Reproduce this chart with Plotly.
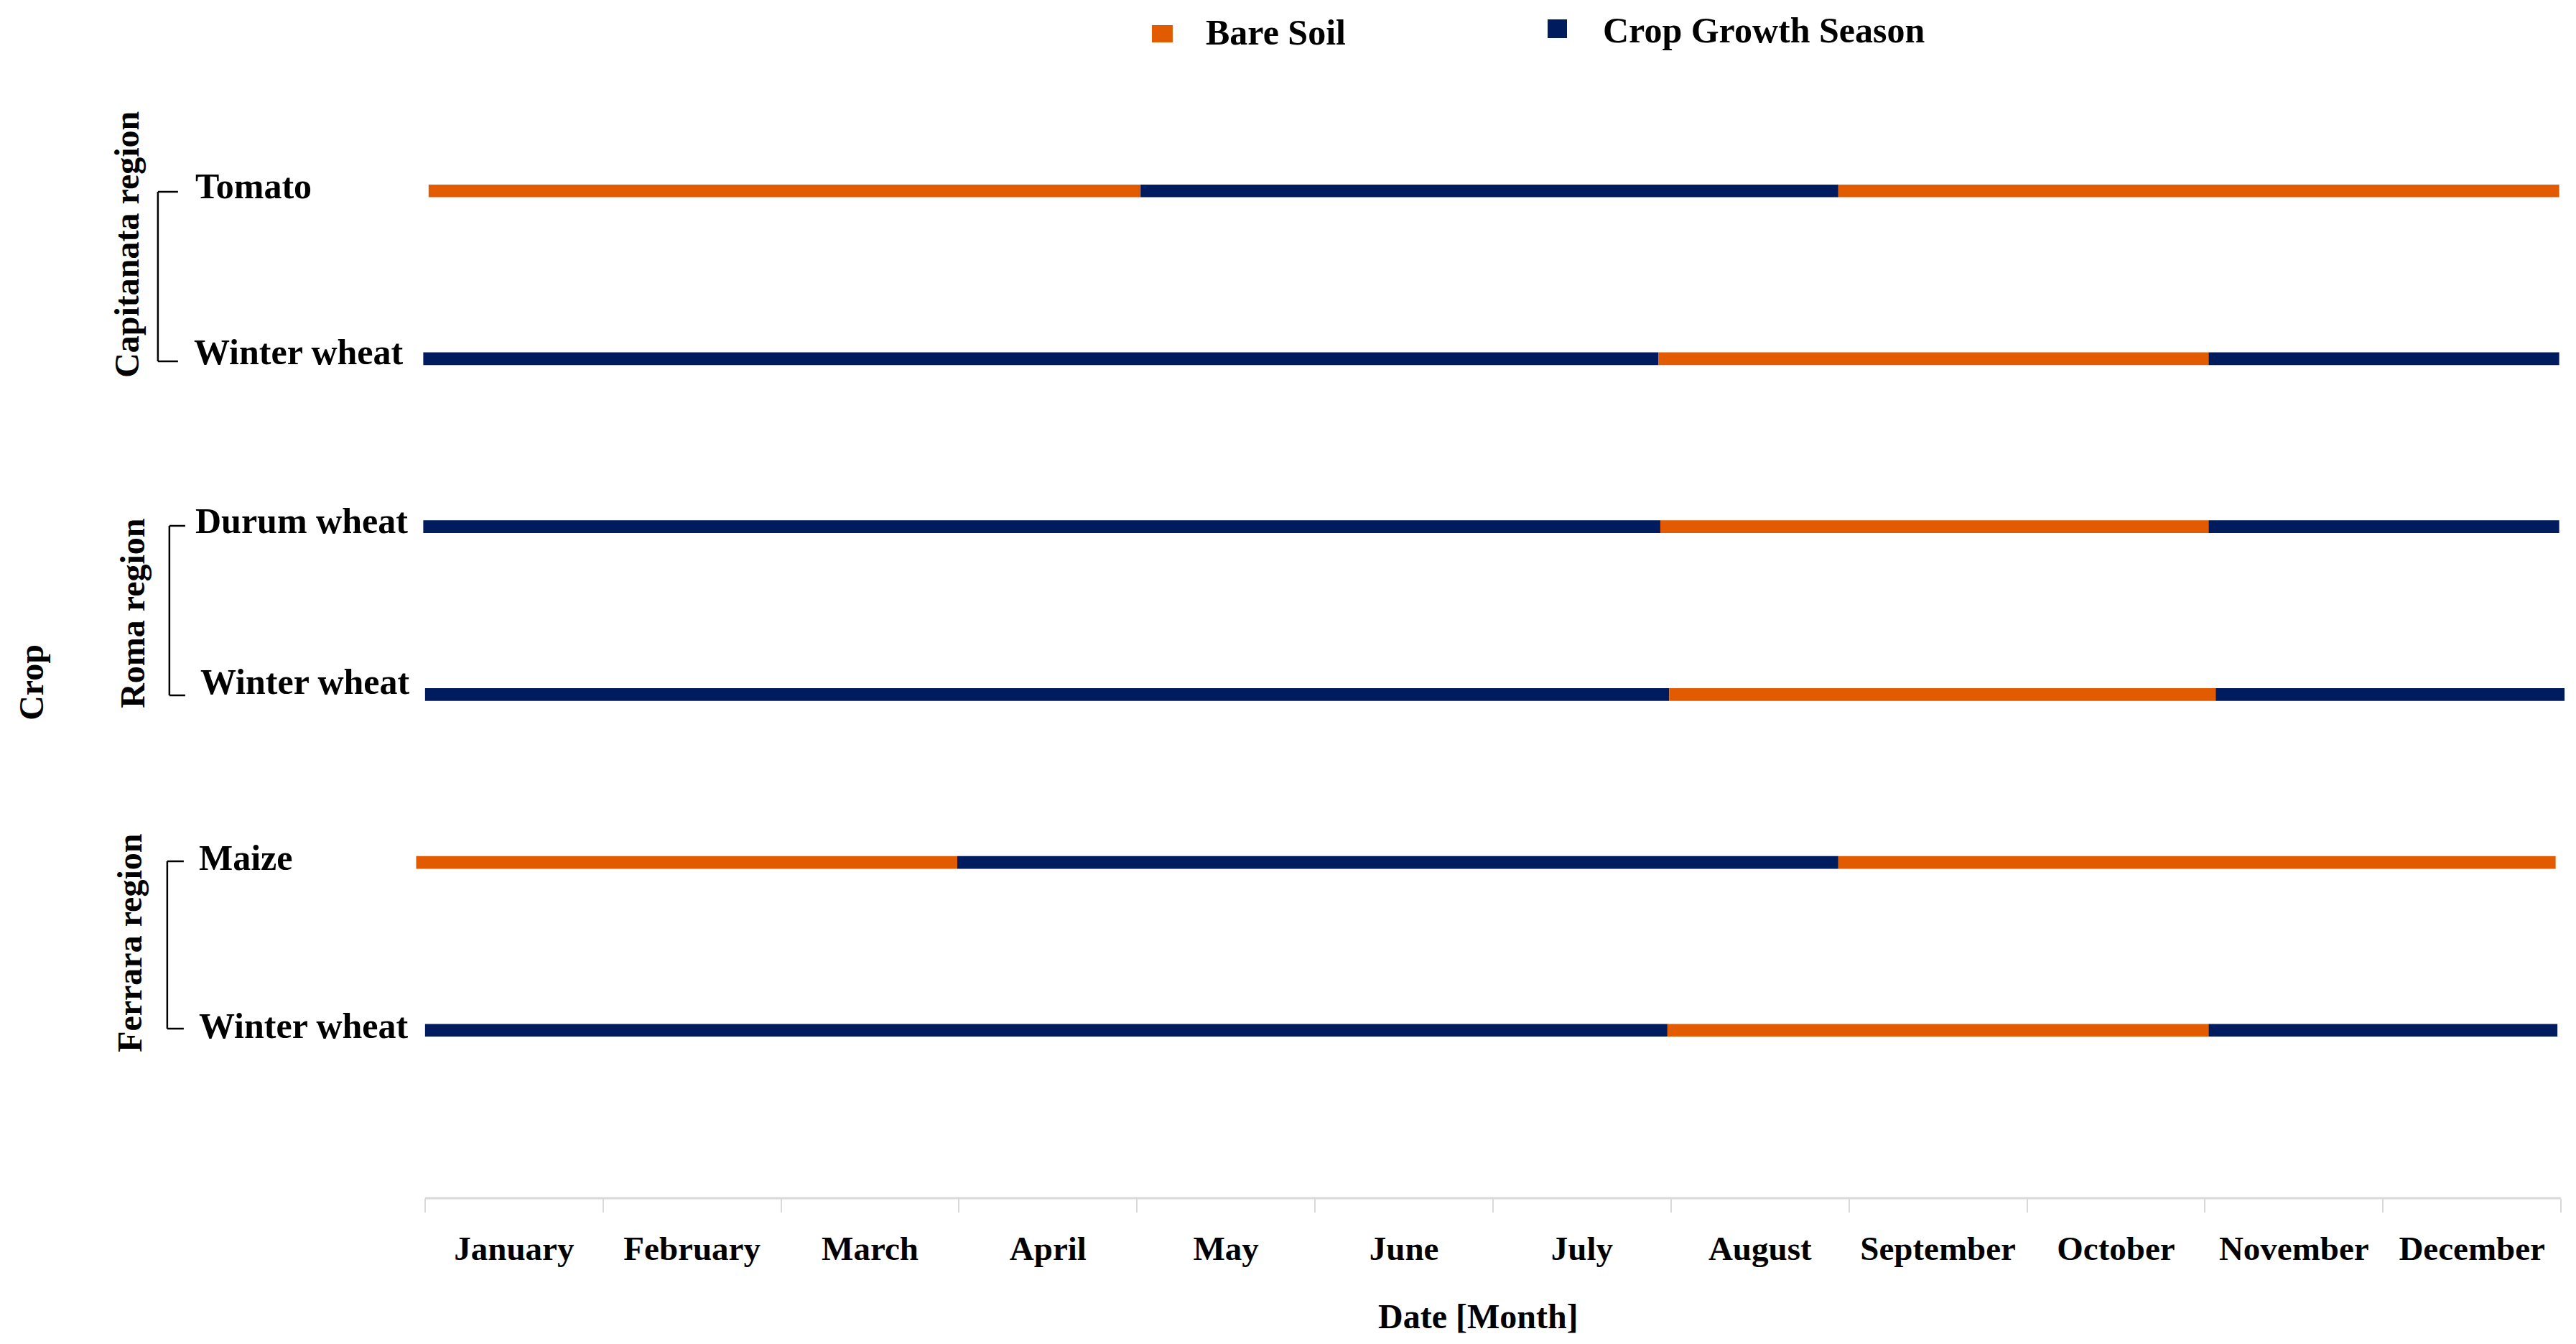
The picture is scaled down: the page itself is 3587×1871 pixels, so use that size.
import plotly.graph_objects as go

# ---------------- data (months measured from 1 January = 0) ----------------
months = ["January", "February", "March", "April", "May", "June", "July",
          "August", "September", "October", "November", "December"]
crop_labels = ["Tomato", "Winter wheat", "Durum wheat", "Winter wheat", "Maize", "Winter wheat"]
row_pos = [6, 5, 4, 3, 2, 1]
region_names = ["Capitanata region", "Roma region", "Ferrara region"]
# phase boundaries for every crop row
season_start = [0.02, -0.01, -0.01, 0.00, -0.05, 0.00]
first_change = [4.02, 6.93, 6.94, 6.99, 2.99, 6.98]
second_change = [7.94, 10.02, 10.02, 10.06, 7.94, 10.02]
season_end = [11.99, 11.99, 11.99, 12.02, 11.97, 11.98]
starts_with_bare = [True, False, False, False, True, False]

BARE = "#E25B00"
CROP = "#001B5E"
FONT = "Liberation Serif"
FS = 48

OFF = 8                       # default page body margin
W, H = 3587 - 2 * OFF, 1871 - 2 * OFF
X_RANGE = [-0.06, 12.04]
PLOT_L, PLOT_R = 577.1, 3575.9   # absolute page pixels
PLOT_T, PLOT_B = 32, 1668


def px(xpix):
    return (xpix - PLOT_L) / (PLOT_R - PLOT_L)


def py(ypix):
    return (PLOT_B - ypix) / (PLOT_B - PLOT_T)


fig = go.Figure()

segments = [(season_start, first_change, 0), (first_change, second_change, 1),
            (second_change, season_end, 2)]
for s_list, e_list, k in segments:
    for colour_is_bare in (True, False):
        ys, bases, lens = [], [], []
        for i in range(len(row_pos)):
            bare = starts_with_bare[i] if k != 1 else not starts_with_bare[i]
            if bare == colour_is_bare:
                ys.append(row_pos[i])
                bases.append(s_list[i])
                lens.append(e_list[i] - s_list[i])
        if ys:
            fig.add_trace(go.Bar(
                y=ys, x=lens, base=bases, orientation="h", width=0.0755,
                marker=dict(color=BARE if colour_is_bare else CROP, line=dict(width=0)),
                name="Bare Soil" if colour_is_bare else "Crop Growth Season",
                showlegend=False, hoverinfo="skip"))

fig.update_layout(
    width=W, height=H,
    margin=dict(l=PLOT_L - OFF, r=W - (PLOT_R - OFF), t=PLOT_T - OFF,
                b=H - (PLOT_B - OFF), pad=0),
    paper_bgcolor="white", plot_bgcolor="white",
    barmode="overlay", showlegend=False,
    font=dict(family=FONT, size=FS, color="black"),
    xaxis=dict(range=X_RANGE, tickmode="array",
               tickvals=[i + 0.5 for i in range(12)], ticktext=months,
               ticks="", showgrid=False, zeroline=False, showline=False,
               tickfont=dict(family=FONT, size=47, color="black", weight="bold"),
               ticklabelstandoff=38,
               minor=dict(ticks="outside", tick0=0, dtick=1, ticklen=19,
                          tickwidth=2, tickcolor="#d9d9d9", showgrid=False)),
    yaxis=dict(range=[0, 7], visible=False, showgrid=False, zeroline=False),
)

shapes = []
# x axis line
shapes.append(dict(type="line", xref="x", yref="paper", x0=0, x1=12, y0=0, y1=0,
                   line=dict(color="#d9d9d9", width=3), layer="below"))

# region brackets
brackets = [(220, 248, 267, 503), (236, 258, 732, 968), (233, 256, 1199, 1432)]
for xv, xt, y0, y1 in brackets:
    for seg in [(xv, y0, xv, y1), (xv, y0, xt, y0), (xv, y1, xt, y1)]:
        shapes.append(dict(type="line", xref="paper", yref="paper",
                           x0=px(seg[0]), y0=py(seg[1]), x1=px(seg[2]), y1=py(seg[3]),
                           line=dict(color="black", width=2.5)))

# manual legend swatches
shapes.append(dict(type="rect", xref="paper", yref="paper",
                   x0=px(1604), x1=px(1633), y0=py(35), y1=py(59),
                   fillcolor=BARE, line=dict(width=0)))
shapes.append(dict(type="rect", xref="paper", yref="paper",
                   x0=px(2155), x1=px(2182), y0=py(27), y1=py(53),
                   fillcolor=CROP, line=dict(width=0)))
fig.update_layout(shapes=shapes)

bold = dict(family=FONT, size=FS, color="black", weight="bold")
bold50 = dict(family=FONT, size=50, color="black", weight="bold")
ann = []
# crop labels (left aligned)
label_x = [270, 268, 270, 277, 275, 275]
label_y = [259, 490, 725, 949, 1194, 1428]
for name, lx, ly in zip(crop_labels, label_x, label_y):
    ann.append(dict(text=name, xref="paper", yref="paper", x=px(lx), y=py(ly),
                    xanchor="left", yanchor="middle", showarrow=False, font=bold50))
# region labels (rotated)
region_x = [176, 184, 180]
region_y = [340, 854, 1313]
for name, rx, ry in zip(region_names, region_x, region_y):
    ann.append(dict(text=name, xref="paper", yref="paper", x=px(rx), y=py(ry),
                    xanchor="center", yanchor="middle", textangle=-90,
                    showarrow=False, font=bold))
# y title
ann.append(dict(text="Crop", xref="paper", yref="paper", x=px(43), y=py(950),
                xanchor="center", yanchor="middle", textangle=-90,
                showarrow=False, font=bold))
# x title
ann.append(dict(text="Date [Month]", xref="paper", yref="paper", x=px(2059), y=py(1832),
                xanchor="center", yanchor="middle", showarrow=False, font=bold))
# legend texts
ann.append(dict(text="Bare Soil", xref="paper", yref="paper", x=px(1677), y=py(45),
                xanchor="left", yanchor="middle", showarrow=False, font=bold50))
ann.append(dict(text="Crop Growth Season", xref="paper", yref="paper", x=px(2230), y=py(42),
                xanchor="left", yanchor="middle", showarrow=False, font=bold50))
fig.update_layout(annotations=ann)

fig.write_html("out.html")
